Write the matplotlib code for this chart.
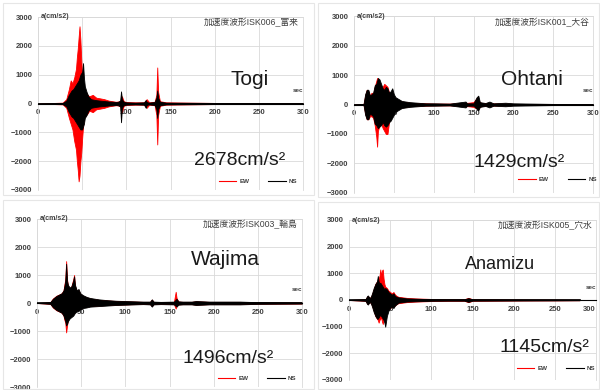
import matplotlib
matplotlib.use('Agg')
import matplotlib.pyplot as plt
from matplotlib.patches import Rectangle

plt.rcParams['font.family'] = ['Liberation Sans', 'Noto Sans CJK JP']

# ---- data (envelope peaks, cm/s2 vs sec) ----
# Togi (ISK006)
togi_t_ew = [0, 28, 32, 35, 37, 39, 41, 43, 44, 45, 46, 47, 48, 49, 50, 51, 52, 54, 56, 58, 62, 66, 70, 75, 80,
             88, 93, 95, 97, 100, 110, 120, 123, 126, 132, 134, 135, 136, 138, 145, 170, 200, 250, 300]
togi_ew_hi = [0, 30, 150, 500, 800, 700, 900, 1200, 1600, 1900, 2300, 2678, 2200, 1500, 900, 700, 500, 400, 300, 250,
              300, 200, 180, 150, 100, 60, 80, 250, 80, 50, 40, 40, 150, 40, 60, 300, 1250, 400, 80, 40, 30, 20, 20, 15]
togi_ew_lo = [0, -30, -150, -500, -700, -900, -1300, -1600, -2000, -2300, -2700, -2500, -2000, -1700, -1200, -800,
              -500, -400, -350, -250, -300, -200, -180, -150, -100, -60, -80, -300, -80, -50, -40, -40, -150, -40, -60,
              -400, -1420, -400, -80, -40, -30, -20, -20, -15]
togi_t_ns = [0, 28, 32, 35, 38, 40, 42, 44, 46, 48, 50, 51, 52, 53, 55, 57, 60, 65, 70, 80, 90, 93, 94, 95, 97, 100,
             110, 120, 122, 123, 125, 132, 134, 135, 136, 138, 145, 170, 200, 250, 300]
togi_ns_hi = [0, 20, 100, 300, 450, 500, 600, 700, 800, 1000, 1100, 1400, 900, 600, 400, 250, 150, 120, 100, 70, 50,
              100, 420, 150, 60, 40, 30, 40, 120, 60, 30, 50, 200, 450, 200, 60, 30, 25, 20, 15, 10]
togi_ns_lo = [0, -20, -100, -300, -450, -500, -600, -700, -800, -900, -900, -800, -700, -500, -400, -250, -150, -120,
              -100, -70, -50, -100, -650, -150, -60, -40, -30, -40, -150, -60, -30, -50, -200, -500, -200, -60, -30,
              -25, -20, -15, -10]

# Ohtani (ISK001)
ohtani_t_ew = [0, 12, 14, 16, 18, 20, 22, 24, 26, 27, 28, 29, 30, 32, 34, 36, 38, 40, 42, 44, 46, 48, 50, 52, 55, 60,
               65, 70, 80, 90, 100, 120, 140, 150, 155, 157, 160, 170, 190, 200, 250, 300]
ohtani_ew_hi = [0, 20, 300, 500, 450, 300, 400, 350, 600, 700, 800, 900, 850, 600, 550, 600, 700, 650, 600, 400, 350,
                300, 250, 200, 150, 100, 80, 60, 40, 40, 30, 30, 50, 80, 250, 100, 50, 40, 30, 20, 15, 10]
ohtani_ew_lo = [0, -20, -300, -500, -500, -400, -400, -450, -700, -900, -1100, -1429, -900, -700, -650, -800, -900,
                -1000, -1000, -600, -400, -300, -250, -200, -150, -100, -80, -60, -40, -40, -30, -30, -50, -80, -150,
                -100, -50, -40, -30, -20, -15, -10]
ohtani_t_ns = [0, 12, 14, 16, 18, 20, 22, 24, 26, 28, 30, 32, 34, 36, 38, 40, 42, 44, 46, 48, 50, 52, 55, 60, 65, 70,
               80, 90, 100, 120, 140, 142, 150, 154, 156, 158, 165, 170, 175, 190, 200, 250, 300]
ohtani_ns_hi = [0, 20, 350, 500, 500, 300, 350, 400, 650, 700, 900, 850, 700, 550, 500, 600, 550, 400, 450, 550, 350,
                250, 200, 120, 100, 80, 60, 40, 40, 30, 100, 40, 40, 250, 300, 80, 50, 100, 40, 60, 40, 20, 15]
ohtani_ns_lo = [0, -20, -350, -500, -500, -300, -350, -400, -650, -700, -800, -750, -700, -600, -700, -750, -700,
                -600, -550, -450, -350, -250, -200, -120, -100, -80, -60, -40, -40, -30, -100, -40, -40, -150, -200,
                -80, -50, -100, -40, -60, -40, -20, -15]

# Wajima (ISK003)
wajima_t_ew = [0, 15, 18, 22, 25, 28, 30, 31, 32, 33, 34, 35, 37, 39, 41, 42, 43, 45, 47, 49, 52, 56, 60, 70, 80, 90,
               100, 110, 120, 128, 130, 132, 140, 155, 157, 158, 160, 165, 175, 180, 195, 220, 230, 250, 300]
wajima_ew_hi = [0, 30, 160, 260, 300, 350, 450, 650, 850, 1496, 850, 600, 500, 600, 850, 1000, 600, 420, 450, 320,
                250, 200, 160, 110, 90, 70, 60, 50, 40, 40, 120, 40, 30, 40, 400, 180, 50, 40, 40, 60, 40, 40, 40,
                25, 20]
wajima_ew_lo = [0, -30, -160, -260, -300, -350, -450, -600, -700, -1050, -800, -600, -500, -450, -400, -350, -300,
                -260, -230, -200, -150, -130, -110, -90, -70, -60, -50, -40, -35, -40, -110, -40, -30, -40, -200,
                -90, -50, -40, -40, -60, -40, -40, -40, -25, -20]
wajima_t_ns = [0, 15, 18, 22, 25, 28, 30, 31, 32, 33, 34, 35, 37, 39, 41, 42, 43, 45, 47, 49, 52, 56, 60, 70, 80, 90,
               100, 110, 120, 128, 130, 132, 140, 155, 158, 160, 165, 175, 180, 195, 220, 230, 250, 300]
wajima_ns_hi = [0, 30, 150, 250, 300, 350, 450, 600, 800, 1400, 800, 650, 550, 600, 800, 950, 650, 450, 500, 350,
                280, 220, 180, 130, 100, 80, 70, 60, 50, 50, 130, 50, 40, 50, 150, 60, 50, 50, 70, 50, 50, 50, 30, 20]
wajima_ns_lo = [0, -30, -150, -250, -300, -350, -450, -550, -650, -800, -750, -650, -550, -500, -450, -400, -350,
                -300, -280, -230, -180, -160, -130, -110, -90, -70, -60, -50, -40, -50, -130, -50, -40, -50, -130, -60,
                -50, -50, -70, -50, -50, -50, -30, -20]

# Anamizu (ISK005)
anamizu_t = [0, 20, 22, 23, 24, 26, 28, 30, 32, 34, 35, 36, 37, 38, 39, 40, 41, 42, 43, 44, 46, 48, 50, 52, 54, 56,
             58, 60, 65, 70, 80, 90, 100, 120, 140, 145, 150, 200, 250, 280]
anamizu_ew_hi = [0, 30, 120, 150, 100, 80, 200, 400, 600, 700, 750, 800, 900, 1145, 900, 1100, 1145, 800, 600, 500,
                 450, 350, 300, 250, 300, 200, 150, 120, 100, 80, 60, 50, 40, 30, 30, 80, 30, 20, 15, 10]
anamizu_ew_lo = [0, -30, -120, -150, -100, -80, -200, -400, -600, -700, -750, -850, -750, -700, -650, -800, -900,
                 -700, -600, -500, -400, -350, -300, -250, -250, -200, -150, -120, -100, -80, -60, -50, -40, -30, -30,
                 -80, -30, -20, -15, -10]
anamizu_ns_hi = [0, 30, 150, 170, 120, 80, 250, 450, 600, 700, 900, 700, 600, 650, 600, 550, 500, 450, 400, 450, 400,
                 300, 250, 200, 250, 150, 120, 100, 80, 60, 50, 40, 30, 25, 25, 70, 25, 20, 15, 10]
anamizu_ns_lo = [0, -30, -150, -170, -120, -80, -250, -450, -600, -700, -700, -650, -600, -550, -600, -650, -700,
                 -750, -850, -1000, -600, -400, -300, -250, -300, -200, -150, -100, -80, -60, -50, -40, -30, -25, -25,
                 -70, -25, -20, -15, -10]

stations = ['Togi', 'Ohtani', 'Wajima', 'Anamizu']
titles = ['加速度波形ISK006_富来', '加速度波形ISK001_大谷', '加速度波形ISK003_輪島', '加速度波形ISK005_穴水']
peaks = ['2678cm/s²', '1429cm/s²', '1496cm/s²', '1145cm/s²']

RED = '#ff0000'
GRID = '#d9d9d9'
W, H = 600, 390


def px_box(x0, y0, x1, y1):
    # pixel box (top-left origin) -> figure fraction rect
    return [x0 / W, 1 - y1 / H, (x1 - x0) / W, (y1 - y0) / H]


fig = plt.figure(figsize=(6, 3.9), dpi=100)

# light chart-area frames
for (x0, y0, x1, y1) in [(3, 3, 314, 195), (318, 3, 599, 197), (3, 200, 314, 389), (318, 202, 599, 389)]:
    fig.patches.append(Rectangle((x0 / W, 1 - y1 / H), (x1 - x0) / W, (y1 - y0) / H, transform=fig.transFigure,
                                 fill=False, edgecolor='#e6e6e6', linewidth=0.8))

axes_px = [(38, 17, 303, 190), (354, 16, 593, 193), (37, 219, 302, 387), (349, 220, 596, 380)]
name_pos = [(0.80, 0.64), (0.745, 0.64), (0.71, 0.76), (0.61, 0.72)]
peak_pos = [(0.76, 0.17), (0.69, 0.17), (0.72, 0.17), (0.79, 0.20)]
name_size = [15, 15, 15, 13]
legend_anchor = [(1.0, 0.0), (1.04, 0.03), (1.0, 0.0), (1.02, 0.02)]

series = [
    (togi_t_ew, togi_ew_hi, togi_ew_lo, togi_t_ns, togi_ns_hi, togi_ns_lo),
    (ohtani_t_ew, ohtani_ew_hi, ohtani_ew_lo, ohtani_t_ns, ohtani_ns_hi, ohtani_ns_lo),
    (wajima_t_ew, wajima_ew_hi, wajima_ew_lo, wajima_t_ns, wajima_ns_hi, wajima_ns_lo),
    (anamizu_t, anamizu_ew_hi, anamizu_ew_lo, anamizu_t, anamizu_ns_hi, anamizu_ns_lo),
]

for i, (t_ew, ew_hi, ew_lo, t_ns, ns_hi, ns_lo) in enumerate(series):
    ax = fig.add_axes(px_box(*axes_px[i]))
    ax.set_xlim(0, 300)
    ax.set_ylim(-3000, 3000)

    # EW first, NS drawn over it
    ax.fill_between(t_ew, ew_lo, ew_hi, color=RED, linewidth=0.6, zorder=2)
    ax.fill_between(t_ns, ns_lo, ns_hi, color='black', linewidth=0.6, zorder=3)
    ax.plot([t_ns[0], t_ns[-1]], [0, 0], color='black', linewidth=1.2, zorder=3)
    ax.plot([], [], color=RED, linewidth=0.8, label='EW')
    ax.plot([], [], color='black', linewidth=0.8, label='NS')

    ax.set_xticks(range(0, 301, 50))
    ax.set_yticks(range(-3000, 3001, 1000))
    ax.grid(True, color=GRID, linewidth=0.6, zorder=0)
    ax.set_axisbelow(True)
    for s in ['top', 'right', 'left']:
        ax.spines[s].set_color(GRID)
        ax.spines[s].set_linewidth(0.6)
    ax.spines['bottom'].set_position(('data', 0))
    ax.spines['bottom'].set_color('black')
    ax.tick_params(length=0, labelsize=5.5, colors='#404040', pad=4)
    for lab in ax.get_xticklabels() + ax.get_yticklabels():
        lab.set_fontweight('bold')
    # last x label sits at the right edge of the picture in the lower-right chart
    if i == 3:
        ax.xaxis.get_major_ticks()[-1].label1.set_horizontalalignment('right')

    ax.text(0.01, 1.0, 'a(cm/s2)', transform=ax.transAxes, fontsize=5, fontweight='bold',
            color='#404040', ha='left', va='center')
    ax.text(0.985, 0.965, titles[i], transform=ax.transAxes, fontsize=6.3, color='#404040',
            ha='right', va='center')
    ax.text(300, 380, 'sec', fontsize=4.5, fontweight='bold', color='#404040', ha='right', va='bottom')

    ax.text(*name_pos[i], stations[i], transform=ax.transAxes, fontsize=name_size[i],
            ha='center', va='center', color='#1a1a1a')
    ax.text(*peak_pos[i], peaks[i], transform=ax.transAxes, fontsize=14,
            ha='center', va='center', color='#1a1a1a')

    leg = ax.legend(loc='lower right', bbox_to_anchor=legend_anchor[i], ncol=2, frameon=False,
                    fontsize=4.5, handlelength=2.8, columnspacing=3.0, handletextpad=0.5)
    for txt in leg.get_texts():
        txt.set_fontweight('bold')
        txt.set_color('#404040')

fig.savefig('out.png', dpi=100)
